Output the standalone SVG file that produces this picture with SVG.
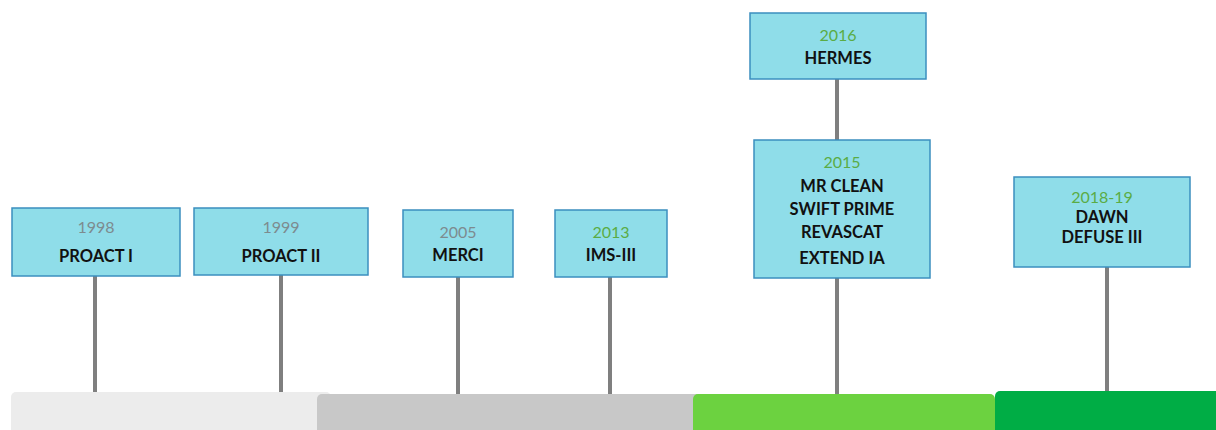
<svg xmlns="http://www.w3.org/2000/svg" width="1216" height="430" viewBox="0 0 1216 430">
<style>
.box{fill:#8fdde9;stroke:#3b8fbf;stroke-width:1.5}
.yr{font-family:Lato,"Liberation Sans",sans-serif;font-size:16px;text-anchor:middle}
.g{fill:#7d8b8f}
.gr{fill:#5aac45}
.nm{font-family:Lato,"Liberation Sans",sans-serif;font-size:16.5px;font-weight:bold;fill:#111;text-anchor:middle}
.conn line{stroke:#7f7f7f;stroke-width:4}
</style>
<rect width="1216" height="430" fill="#fff"/>
<g id="bars">
<rect x="11" y="392" width="320" height="50" rx="5" fill="#ececec"/>
<rect x="317" y="394" width="390" height="50" rx="5" fill="#c8c8c8"/>
<rect x="693" y="394" width="302" height="50" rx="5" fill="#6cd240"/>
<rect x="995" y="391" width="230" height="50" rx="5" fill="#00ad45"/>
</g>
<g class="conn" id="connectors">
<line x1="95" y1="276" x2="95" y2="392"/>
<line x1="281" y1="275" x2="281" y2="392"/>
<line x1="458" y1="277" x2="458" y2="394"/>
<line x1="610" y1="277" x2="610" y2="394"/>
<line x1="837" y1="79" x2="837" y2="140"/>
<line x1="837" y1="278" x2="837" y2="394"/>
<line x1="1107" y1="267" x2="1107" y2="391"/>
</g>
<g id="n1998">
<rect class="box" x="12" y="208" width="168" height="68"/>
<text class="yr g" x="96" y="233">1998</text>
<text class="nm" x="96" y="262">PROACT I</text>
</g>
<g id="n1999">
<rect class="box" x="194" y="208" width="174" height="67"/>
<text class="yr g" x="281" y="233">1999</text>
<text class="nm" x="281" y="262">PROACT II</text>
</g>
<g id="n2005">
<rect class="box" x="403" y="210" width="110" height="67"/>
<text class="yr g" x="458" y="238">2005</text>
<text class="nm" x="458" y="261">MERCI</text>
</g>
<g id="n2013">
<rect class="box" x="555" y="210" width="112" height="67"/>
<text class="yr gr" x="611" y="238">2013</text>
<text class="nm" x="611" y="261">IMS-III</text>
</g>
<g id="n2016">
<rect class="box" x="750" y="13" width="176" height="66"/>
<text class="yr gr" x="838" y="41">2016</text>
<text class="nm" x="838" y="64">HERMES</text>
</g>
<g id="n2015">
<rect class="box" x="754" y="140" width="176" height="138"/>
<text class="yr gr" x="842" y="168">2015</text>
<text class="nm" x="842" y="192">MR CLEAN</text>
<text class="nm" x="842" y="215">SWIFT PRIME</text>
<text class="nm" x="842" y="238">REVASCAT</text>
<text class="nm" x="842" y="264">EXTEND IA</text>
</g>
<g id="n2018">
<rect class="box" x="1014" y="177" width="176" height="90"/>
<text class="yr gr" x="1102" y="203">2018-19</text>
<text class="nm" x="1102" y="223">DAWN</text>
<text class="nm" x="1102" y="243">DEFUSE III</text>
</g>
</svg>
